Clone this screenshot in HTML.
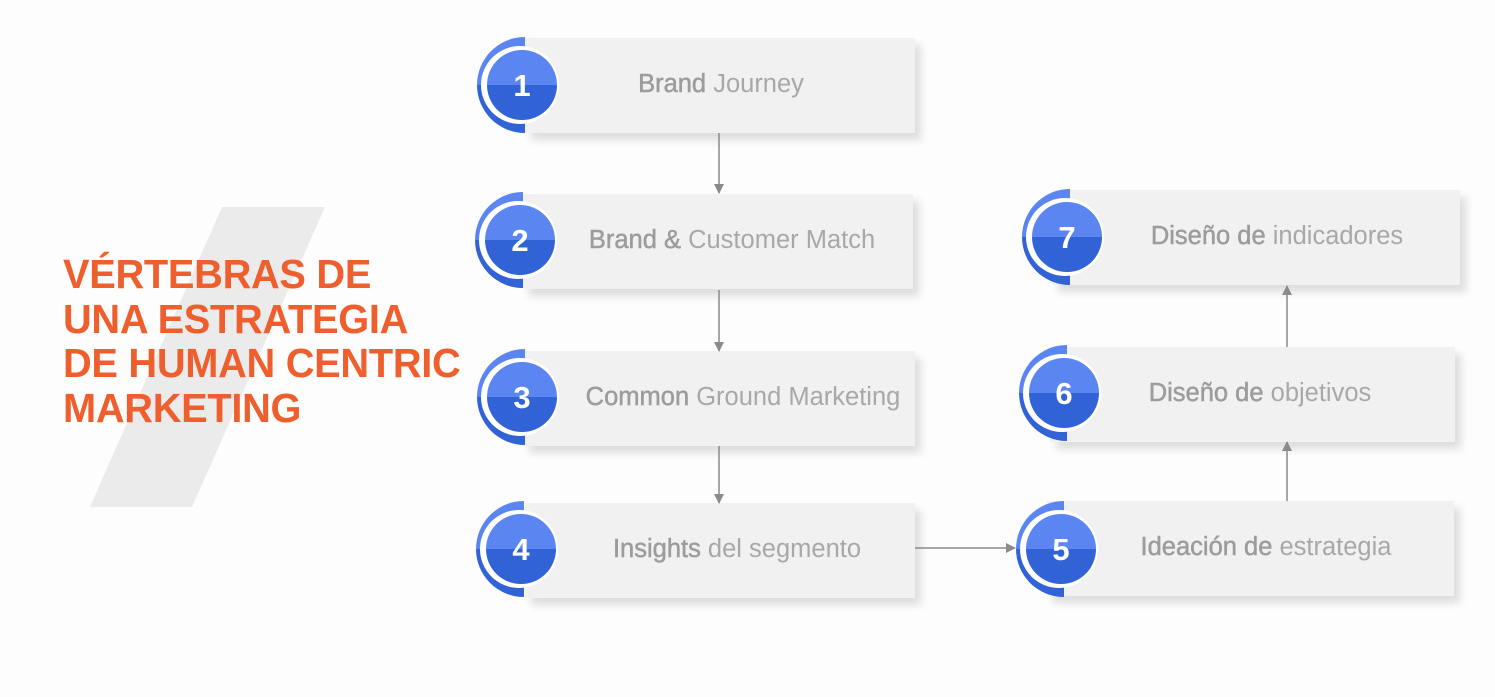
<!DOCTYPE html>
<html><head><style>
body{margin:0;width:1495px;height:697px;background:#fdfdfd;position:relative;overflow:hidden;font-family:"Liberation Sans",sans-serif}
.box{position:absolute;height:95px;background:#f1f1f1;box-shadow:6px 7px 8px rgba(0,0,0,0.13)}
.t{position:absolute;font-size:25.5px;color:#a8a8a8;white-space:nowrap;transform:translateX(-50%);line-height:28px}
.t b{font-weight:normal;color:#9c9c9c;-webkit-text-stroke:0.5px #9c9c9c}
.title{position:absolute;left:63px;top:252px;color:#ee5f2d;font-weight:bold;font-size:41px;line-height:44.5px;letter-spacing:-0.3px;transform:scaleX(0.97);transform-origin:left top;white-space:nowrap}
</style></head><body>
<svg width="1495" height="697" style="position:absolute;left:0;top:0">
<polygon points="222,207 325,207 192,507 90,507" fill="#ebebeb"/>
</svg>
<div class="title">VÉRTEBRAS DE<br>UNA ESTRATEGIA<br>DE HUMAN CENTRIC<br>MARKETING</div>

<div class="box" style="left:525px;top:38px;width:390px"></div>
<div class="box" style="left:523px;top:194px;width:390px"></div>
<div class="box" style="left:523px;top:351px;width:392px"></div>
<div class="box" style="left:525px;top:503px;width:390px"></div>
<div class="box" style="left:1047px;top:501px;width:407px"></div>
<div class="box" style="left:1050px;top:347px;width:405px"></div>
<div class="box" style="left:1052px;top:190px;width:408px"></div>

<svg width="1495" height="697" style="position:absolute;left:0;top:0">
<defs>
<linearGradient id="g" x1="0" y1="0" x2="0" y2="1"><stop offset="0.5" stop-color="#5b86f1"/><stop offset="0.5" stop-color="#3263d6"/></linearGradient>
<g id="c">
<path d="M3,-48 A48,48 0 0 0 3,48 Z" fill="url(#g)"/>
<circle cx="-2" cy="0" r="39" fill="#fff"/>
<circle cx="0" cy="0" r="35" fill="url(#g)"/>
</g>
<marker id="a" markerWidth="10" markerHeight="10" refX="9" refY="5" orient="auto" markerUnits="userSpaceOnUse"><path d="M0,0 L10,5 L0,10 Z" fill="#8a8a8a"/></marker>
</defs>
<g stroke="#8a8a8a" stroke-width="1.5" marker-end="url(#a)">
<line x1="719" y1="133" x2="719" y2="193"/>
<line x1="719" y1="290" x2="719" y2="351"/>
<line x1="719" y1="446" x2="719" y2="503"/>
<line x1="915" y1="548" x2="1015" y2="548"/>
<line x1="1287" y1="501" x2="1287" y2="442"/>
<line x1="1287" y1="347" x2="1287" y2="286"/>
</g>
<use href="#c" x="522" y="85"/>
<use href="#c" x="520" y="240"/>
<use href="#c" x="522" y="397"/>
<use href="#c" x="521" y="549"/>
<use href="#c" x="1061" y="549"/>
<use href="#c" x="1064" y="393"/>
<use href="#c" x="1067" y="237"/>
<g fill="#fff" font-family="Liberation Sans" font-weight="bold" font-size="31" text-anchor="middle">
<text x="522" y="96">1</text><text x="520" y="251">2</text><text x="522" y="408">3</text><text x="521" y="560">4</text>
<text x="1061" y="560">5</text><text x="1064" y="404">6</text><text x="1067" y="248">7</text>
</g>
</svg>

<div class="t" style="left:721px;top:70px"><b>Brand</b> Journey</div>
<div class="t" style="left:732px;top:226px"><b>Brand &amp;</b> Customer Match</div>
<div class="t" style="left:743px;top:383px"><b>Common</b> Ground Marketing</div>
<div class="t" style="left:737px;top:535px"><b>Insights</b> del segmento</div>
<div class="t" style="left:1266px;top:533px"><b>Ideación de</b> estrategia</div>
<div class="t" style="left:1260px;top:379px"><b>Diseño de</b> objetivos</div>
<div class="t" style="left:1277px;top:222px"><b>Diseño de</b> indicadores</div>
</body></html>
